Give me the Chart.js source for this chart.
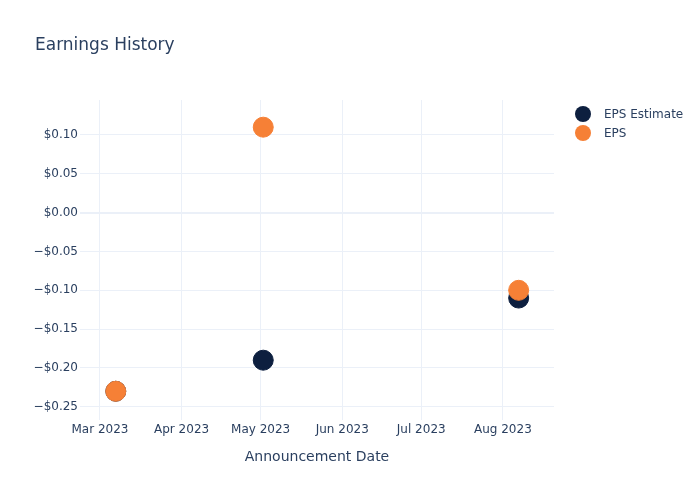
<!DOCTYPE html>
<html>
<head>
<meta charset="utf-8">
<script src="https://cdn.jsdelivr.net/npm/chart.js@4"></script>
<style>
  html, body { margin: 0; padding: 0; background: #fff; }
  #wrap { width: 700px; height: 500px; position: relative; }
</style>
</head>
<body>
<div id="wrap"><canvas id="chart" width="700" height="500"></canvas></div>
<script>
// data
const dates = ['2023-03-07', '2023-05-02', '2023-08-07'];
const epsEstimate = [-0.23, -0.19, -0.11];
const eps = [-0.23, 0.11, -0.10];
const monthTicks = ['2023-03-01', '2023-04-01', '2023-05-01', '2023-06-01', '2023-07-01', '2023-08-01'];
const monthNames = ['Jan', 'Feb', 'Mar', 'Apr', 'May', 'Jun', 'Jul', 'Aug', 'Sep', 'Oct', 'Nov', 'Dec'];
const yTicks = [-0.25, -0.20, -0.15, -0.10, -0.05, 0, 0.05, 0.10];

const textColor = '#2a3f5f';
const gridColor = '#ebf0f8';
const font = 'DejaVu Sans';

const toPoints = (vals) => vals.map((v, i) => ({ x: Date.parse(dates[i]), y: v }));

// title + legend drawn on top of the canvas
const extras = {
    id: 'extras',
    afterDraw(chart) {
        const ctx = chart.ctx;
        ctx.save();
        ctx.fillStyle = textColor;
        ctx.textBaseline = 'alphabetic';
        ctx.font = '17px "' + font + '"';
        ctx.fillText('Earnings History', 35, 50);

        ctx.textBaseline = 'middle';
        ctx.font = '12px "' + font + '"';
        chart.data.datasets.forEach((ds, i) => {
            const y = 114 + i * 19;
            ctx.beginPath();
            ctx.arc(583, y, 8, 0, Math.PI * 2);
            ctx.fillStyle = ds.backgroundColor;
            ctx.fill();
            ctx.fillStyle = textColor;
            ctx.fillText(ds.label, 604, y + 1);
        });
        ctx.restore();
    }
};

new Chart(document.getElementById('chart'), {
    type: 'scatter',
    data: {
        datasets: [
            {
                label: 'EPS Estimate',
                data: toPoints(epsEstimate),
                backgroundColor: '#0d1f3f',
                borderColor: '#0d1f3f',
                pointRadius: 10,
                pointHoverRadius: 10,
                order: 1
            },
            {
                label: 'EPS',
                data: toPoints(eps),
                backgroundColor: '#f68036',
                borderColor: '#f68036',
                pointRadius: 10,
                pointHoverRadius: 10,
                order: 0
            }
        ]
    },
    options: {
        responsive: false,
        animation: false,
        layout: { padding: { left: 0, right: 146, top: 100, bottom: 0 } },
        plugins: {
            legend: { display: false },
            tooltip: { enabled: false }
        },
        scales: {
            x: {
                type: 'linear',
                min: Date.UTC(2023, 1, 21, 10),
                max: Date.UTC(2023, 7, 20, 10),
                afterBuildTicks: (axis) => {
                    axis.ticks = monthTicks.map(d => ({ value: Date.parse(d) }));
                },
                afterFit: (axis) => { axis.height = 80; },
                grid: { color: gridColor, drawTicks: false },
                border: { display: false },
                ticks: {
                    padding: 3,
                    color: textColor,
                    font: { family: font, size: 12 },
                    maxRotation: 0,
                    callback: (v) => {
                        const d = new Date(v);
                        return monthNames[d.getUTCMonth()] + ' ' + d.getUTCFullYear();
                    }
                },
                title: {
                    display: true,
                    text: 'Announcement Date',
                    color: textColor,
                    font: { family: font, size: 14 },
                    padding: { top: 0, bottom: 34 }
                }
            },
            y: {
                min: -0.267,
                max: 0.145,
                afterBuildTicks: (axis) => {
                    axis.ticks = yTicks.map(v => ({ value: v }));
                },
                afterFit: (axis) => { axis.width = 80; },
                grid: {
                    color: gridColor,
                    drawTicks: false,
                    lineWidth: (c) => (c.tick && c.tick.value === 0 ? 2 : 1)
                },
                border: { display: false },
                ticks: {
                    padding: 2,
                    color: textColor,
                    font: { family: font, size: 12 },
                    callback: (v) => (v < 0 ? '\u2212$' : '$') + Math.abs(v).toFixed(2)
                }
            }
        }
    },
    plugins: [extras]
});
</script>
</body>
</html>
